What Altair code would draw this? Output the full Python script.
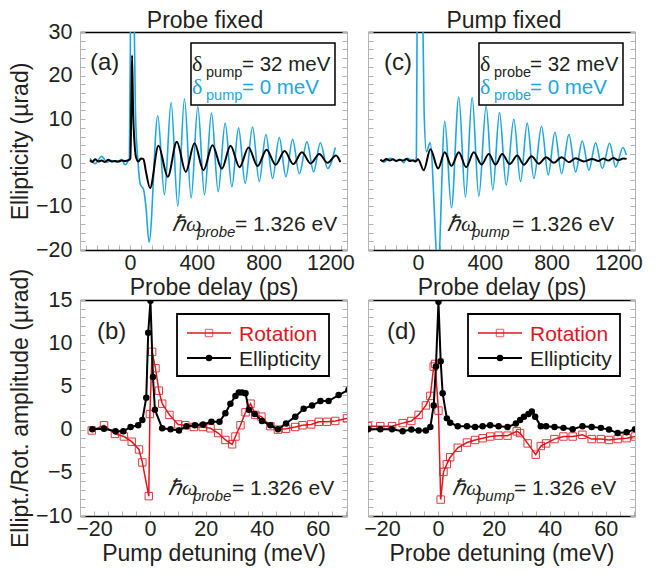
import altair as alt
import pandas as pd

# ---------------- data ----------------
# (a) Probe fixed: ellipticity vs probe delay
a_blue_t = [-240, -210, -170, -140, -110, -80, -50, -30, -10, -4, 4, 12, 22, 32, 48, 62, 80, 95, 114,
            166, 206, 246, 286, 326, 366, 406, 446, 488, 528, 570, 610, 650, 690, 734, 774, 814, 854,
            894, 934, 974, 1014, 1060, 1100, 1140, 1184, 1230]
a_blue_v = [1.0, -0.2, 1.5, 0.15, 0.5, 0.15, 0.75, -0.45, 0.5, 1.0, 40, 60, 42, 12, 0.0, -5.0, -6.0, -10.0, -18.2,
            10.8, -7.3, 13.8, -10.0, 14.7, -8.1, 12.9, -7.3, 11.4, -6.6, 9.1, -5.5, 8.0, -4.7, 8.2, -4.3, 6.5, -3.6,
            5.8, -3.2, 5.4, -2.5, 4.8, -2.1, 4.6, -1.3, 3.5]
a_black_t = [-240, -225, -210, -190, -170, -150, -130, -110, -90, -70, -50, -30, -10, 2, 8, 12, 18, 26, 35, 50,
             65, 80, 95, 120, 170, 226, 280, 334, 386, 440, 494, 550, 602, 656, 710, 764, 818, 872, 926, 978,
             1030, 1082, 1134, 1184, 1234, 1260]
a_black_v = [0.6, 0.2, 0.8, 0.3, 0.5, 0.2, 0.7, 0.3, 0.4, 0.3, 0.5, 0.4, 0.6, 1.0, 15, 24.6, 12, 5, 1.4, 0.3,
             1.0, 0.9, -2.0, -5.8, 3.9, -3.2, 4.8, -2.1, 4.5, -1.7, 4.0, -1.35, 3.9, -1.0, 3.5, -0.75, 3.0, -0.45,
             2.7, -0.3, 2.4, -0.15, 2.0, 0.0, 1.65, 0.15]

# (c) Pump fixed: ellipticity vs probe delay
c_blue_t = [-226, -206, -166, -136, -106, -86, -66, -36, -16, -10, -4, 10, 25, 36, 50, 72, 120,
            160, 200, 244, 284, 324, 364, 408, 448, 488, 528, 574, 614, 654, 694, 740, 780, 820, 860,
            904, 944, 984, 1024, 1064, 1104, 1148, 1184, 1228, 1248]
c_blue_v = [0.75, 0.15, 1.05, 0.5, 0.75, 0.0, 1.05, 0.5, 0.3, 1.5, 45, 70, 45, 12, 2.5, 4.6, -24,
            9.5, -10.3, 15.1, -7.9, 15.0, -7.7, 13.0, -6.2, 11.5, -5.1, 10.0, -4.3, 9.1, -3.6, 8.4, -2.8, 7.0, -2.5,
            6.5, -2.1, 5.0, -1.7, 4.6, -1.3, 4.5, -1.0, 3.5, 1.8]
c_black_t = [-226, -210, -190, -170, -150, -130, -110, -90, -70, -50, -30, -15, 0, 34, 74, 120, 160, 200,
             244, 288, 334, 380, 424, 464, 504, 550, 594, 634, 680, 724, 768, 814, 860, 904, 944, 994, 1044,
             1080, 1110, 1140, 1170, 1200, 1230, 1250]
c_black_v = [0.7, 0.4, 0.9, 0.5, 0.8, 0.4, 0.7, 0.5, 0.9, 0.4, 0.6, 0.3, 0.8, -1.7, 3.1, -1.3, 2.4, -0.7,
             2.4, -1.0, 2.4, -0.4, 2.0, -0.4, 2.0, -0.3, 1.65, -0.45, 1.5, -0.2, 1.3, 0.0, 1.3, 0.15, 1.05, 0.3, 0.9,
             0.4, 1.0, 0.5, 1.1, 0.6, 1.0, 0.9]

# (b) amplitude vs pump detuning
b_rot_x = [-20.8, -16.4, -12.5, -9.3, -6.5, -3.9, -2.7, -0.4, 0.0, 0.8, 2.0, 3.2, 4.4, 7.0, 10.1, 12.7, 15.7,
           18.9, 21.7, 24.4, 27.0, 29.4, 30.6, 32.4, 34.2, 36.0, 37.7, 39.9, 43.1, 45.8, 48.7, 52.0, 54.6,
           57.7, 60.4, 63.3, 66.3, 70.5]
b_rot_v = [-0.1, 0.5, -0.5, -0.8, -1.4, -2.3, -3.8, -7.7, 1.8, 9.0, 7.1, 4.5, 3.0, 1.7, 0.6, 0.5, 0.3,
           0.3, 0.15, -0.4, -1.2, -1.7, -0.8, 0.5, 2.0, 3.0, 1.7, 1.5, 0.4, 0.0, 0.1, 0.3, 0.5,
           0.6, 0.9, 0.9, 1.0, 1.3]
b_ell_x = [-20.6, -16.4, -12.3, -9.5, -6.9, -4.2, -2.7, -1.3, -0.6, 0.2, 1.1, 1.8, 4.4, 7.4, 10.4, 13.1, 16.1,
           19.0, 22.0, 24.9, 27.0, 28.8, 30.6, 31.8, 33.0, 34.2, 35.4, 37.5, 40.1, 43.1, 45.8, 48.7, 52.0,
           55.0, 58.0, 61.0, 63.9, 67.5, 71.0]
b_ell_v = [0.04, 0.1, -0.2, -0.2, 0.3, 0.5, 1.1, 3.7, 11.2, 14.9, 6.1, 2.3, 0.15, 0.04, -0.1, 0.4, 0.5,
           0.6, 0.9, 0.9, 1.9, 3.0, 3.9, 4.3, 4.3, 4.2, 2.3, 1.8, 1.0, 0.5, 0.04, 0.7, 1.5,
           2.4, 2.8, 3.3, 3.3, 4.0, 4.6]

# (d) amplitude vs probe detuning
d_rot_x = [-25.0, -20.6, -16.4, -12.6, -9.5, -6.9, -4.3, -2.7, -1.5, -1.0, 0.2, 1.0, 2.0, 3.2, 4.4, 7.1, 10.4,
           13.3, 16.0, 18.7, 21.7, 24.9, 28.2, 29.4, 32.1, 35.0, 36.8, 38.7, 41.7, 44.9, 48.2, 51.7, 55.0,
           58.3, 61.2, 64.3, 67.5, 70.5]
d_rot_v = [0.4, 0.4, 0.4, 0.75, 1.0, 1.7, 2.8, 3.9, 7.3, 7.6, 2.2, -8.1, -4.9, -4.0, -3.2, -2.1, -1.5,
           -1.2, -1.0, -0.8, -0.7, -0.7, -0.2, -0.4, -1.6, -2.9, -1.9, -1.6, -1.1, -0.8, -0.8, -0.6, -1.1,
           -1.1, -1.2, -1.1, -1.0, -0.8]
d_ell_x = [-25.0, -20.6, -16.4, -12.6, -9.5, -6.9, -4.3, -2.7, -1.5, -0.7, 0.2, 1.0, 1.7, 3.2, 4.4, 7.1, 10.4,
           13.3, 16.0, 18.7, 21.7, 24.9, 27.9, 29.4, 30.8, 32.4, 33.6, 34.8, 36.8, 38.7, 41.7, 44.9, 48.2,
           51.7, 55.0, 58.3, 61.2, 64.3, 67.5, 70.5]
d_ell_v = [0.04, 0.04, 0.04, -0.2, 0.0, -0.1, -0.1, 0.3, 2.8, 7.3, 14.8, 7.9, 4.2, 1.3, 0.8, 0.4, 0.4,
           0.3, 0.4, 0.5, 0.4, 0.3, 0.7, 1.1, 1.5, 1.8, 2.1, 1.5, 0.4, 0.4, 0.3, 0.2, 0.04,
           0.4, 0.3, 0.2, 0.0, -0.4, -0.3, 0.04]

trace_xlabels = [0, 400, 800, 1200]
trace_ylabels = [-20, -10, 0, 10, 20, 30]
det_xlabels = [-20, 0, 20, 40, 60]
det_ylabels = [-10, -5, 0, 5, 10, 15]

# ---------------- style ----------------
W = 267
H_TOP = 218
H_BOT = 216
FONT = "Liberation Sans"
SERIF = "Liberation Serif"
GREY = "#b4b4b4"
BLUE = "#1DA6E0"
RED = "#E3161D"
TXT = "#231f20"

trace_minor_x = [k * 400 / 6 for k in range(-4, 20)]
trace_minor_y = list(range(-20, 31, 2))
det_minor_x = list(range(-25, 71, 5))
det_minor_y = list(range(-10, 16, 1))

one = pd.DataFrame({"k": [0]})


def txt(s, x, y, size=20, color=TXT, font=FONT, style="normal", align="left"):
    return alt.Chart(one).mark_text(
        text=s, fontSize=size, font=font, fontStyle=style, color=color,
        align=align, baseline="alphabetic"
    ).encode(x=alt.value(x), y=alt.value(y))


def frame_layers(df, xf, yf, xs, ys, H, minor_x, minor_y):
    t1 = alt.Chart(df).mark_point(opacity=0).encode(
        x=alt.X(f"{xf}:Q", scale=xs, axis=alt.Axis(orient="top", offset=-H, values=minor_x, labels=False,
                                                   domain=False, ticks=True, tickColor=GREY, tickSize=5,
                                                   tickWidth=1, title=None, grid=False,
                                                   minExtent=0, maxExtent=0)),
        y=alt.Y(f"{yf}:Q", scale=ys, axis=alt.Axis(orient="right", offset=-W, values=minor_y, labels=False,
                                                   domain=False, ticks=True, tickColor=GREY, tickSize=5,
                                                   tickWidth=1, title=None, grid=False,
                                                   minExtent=0, maxExtent=0)),
    )
    t2 = alt.Chart(df).mark_point(opacity=0).encode(
        x=alt.X(f"{xf}:Q", scale=xs, axis=alt.Axis(orient="bottom", offset=-H, labels=False, ticks=False,
                                                   domainColor="black", domainWidth=1.5, title=None,
                                                   grid=False, minExtent=0, maxExtent=0)),
        y=alt.Y(f"{yf}:Q", scale=ys, axis=alt.Axis(orient="left", offset=-W, values=minor_y, labels=False,
                                                   domainColor=GREY, ticks=True, tickColor=GREY, tickSize=5,
                                                   tickWidth=1, title=None, grid=False,
                                                   minExtent=0, maxExtent=0)),
    )
    return [t1, t2]


def main_axes(xvals, yvals, xtitle, ytitle, show_y):
    xa = alt.Axis(orient="bottom", values=xvals, format="d", ticks=False, domainColor="black", domainWidth=1.5,
                  labelFontSize=21.5, labelFont=FONT, labelColor=TXT, labelPadding=2, labelFlush=False,
                  title=xtitle, titleFontSize=23, titleFont=FONT, titleFontWeight="normal",
                  titleColor=TXT, titlePadding=3, grid=False)
    if show_y:
        ya = alt.Axis(orient="left", values=yvals, format="d", ticks=False, domainColor=GREY, domainWidth=1,
                      labelFontSize=21.5, labelFont=FONT, labelColor=TXT, labelPadding=8, labelFlush=False,
                      title=ytitle, titleFontSize=23, titleFont=FONT, titleFontWeight="normal",
                      titleColor=TXT, titlePadding=3, grid=False)
    else:
        ya = alt.Axis(orient="left", values=yvals, ticks=False, domainColor=GREY, domainWidth=1,
                      labels=False, title=None, grid=False, minExtent=0)
    return xa, ya


def trace_panel(bt, bv, kt, kv, letter, dsub, hsub, title, tx, show_y, pos):
    H = H_TOP
    xs = alt.Scale(domain=[-300, 1300], nice=False, zero=False)
    ys = alt.Scale(domain=[-20, 30], nice=False, zero=False)
    dfb = pd.DataFrame({"t": bt, "v": bv})
    dfk = pd.DataFrame({"t": kt, "v": kv})
    xa, ya = main_axes(trace_xlabels, trace_ylabels, "Probe delay (ps)", "Ellipticity (µrad)", show_y)
    blue = alt.Chart(dfb).mark_line(color=BLUE, strokeWidth=1.6, interpolate="monotone", clip=True).encode(
        x=alt.X("t:Q", scale=xs, axis=xa), y=alt.Y("v:Q", scale=ys, axis=ya))
    black = alt.Chart(dfk).mark_line(color="black", strokeWidth=2, interpolate="monotone", clip=True).encode(
        x=alt.X("t:Q", scale=xs, axis=None), y=alt.Y("v:Q", scale=ys, axis=None))
    lx, hx, sx, ex = pos
    deco = [
        alt.Chart(one).mark_rect(fill="white", stroke="black", strokeWidth=1.5).encode(
            x=alt.value(111), x2=alt.value(255), y=alt.value(11), y2=alt.value(73)),
        txt("δ", 112, 39, size=22, font=SERIF),
        txt(dsub, 126, 45, size=14.5),
        txt("= 32 meV", sx, 39, size=20.5),
        txt("δ", 112, 62, size=22, font=SERIF, color=BLUE),
        txt(dsub, 126, 68, size=14.5, color=BLUE),
        txt("= 0 meV", sx, 62, size=20.5, color=BLUE),
        txt(letter, lx, 38, size=24),
        txt("ℏω", hx, H - 19, size=22, font=SERIF, style="italic"),
        txt(hsub, hx + 25, H - 13, size=15, style="italic"),
        txt("= 1.326 eV", ex, H - 19, size=21),
        txt(title, tx, -4, size=23, align="center"),
    ]
    layers = frame_layers(dfk, "t", "v", xs, ys, H, trace_minor_x, trace_minor_y) + [blue, black] + deco
    return alt.layer(*layers).resolve_axis(x="independent", y="independent").properties(width=W, height=H)


def det_panel(rx, rv, ex_, ev, letter, xtitle, sub, show_y, pos):
    H = H_BOT
    xs = alt.Scale(domain=[-25, 70.5], nice=False, zero=False)
    ys = alt.Scale(domain=[-10, 15], nice=False, zero=False)
    dfr = pd.DataFrame({"x": rx, "v": rv})
    dfe = pd.DataFrame({"x": ex_, "v": ev})
    xa, ya = main_axes(det_xlabels, det_ylabels, xtitle, "Ellipt./Rot. amplitude (µrad)", show_y)
    rline = alt.Chart(dfr).mark_line(color=RED, strokeWidth=1.5, clip=True).encode(
        x=alt.X("x:Q", scale=xs, axis=xa), y=alt.Y("v:Q", scale=ys, axis=ya))
    rpts = alt.Chart(dfr).mark_point(shape="square", filled=False, color=RED, size=55, strokeWidth=1.0,
                                     opacity=0.85, clip=True).encode(
        x=alt.X("x:Q", scale=xs, axis=None), y=alt.Y("v:Q", scale=ys, axis=None))
    eline = alt.Chart(dfe).mark_line(color="black", strokeWidth=2, clip=True).encode(
        x=alt.X("x:Q", scale=xs, axis=None), y=alt.Y("v:Q", scale=ys, axis=None))
    epts = alt.Chart(dfe).mark_circle(color="black", size=42, opacity=1, clip=True).encode(
        x=alt.X("x:Q", scale=xs, axis=None), y=alt.Y("v:Q", scale=ys, axis=None))
    lx, bx, hx, eqx = pos
    deco = [
        alt.Chart(one).mark_rect(fill="white", stroke="black", strokeWidth=1.8).encode(
            x=alt.value(bx), x2=alt.value(bx + 152), y=alt.value(14), y2=alt.value(76)),
        alt.Chart(one).mark_rule(color=RED, strokeWidth=1.5).encode(
            x=alt.value(bx + 10), x2=alt.value(bx + 54), y=alt.value(33)),
        alt.Chart(one).mark_point(shape="square", filled=False, color=RED, size=55, strokeWidth=1.0).encode(
            x=alt.value(bx + 32), y=alt.value(33)),
        txt("Rotation", bx + 62, 41, size=21, color=RED),
        alt.Chart(one).mark_rule(color="black", strokeWidth=2).encode(
            x=alt.value(bx + 10), x2=alt.value(bx + 54), y=alt.value(58)),
        alt.Chart(one).mark_circle(color="black", size=42, opacity=1).encode(
            x=alt.value(bx + 32), y=alt.value(58)),
        txt("Ellipticity", bx + 62, 66, size=21),
        txt(letter, lx, 39, size=24),
        txt("ℏω", hx, H - 21, size=22, font=SERIF, style="italic"),
        txt(sub, hx + 25, H - 15, size=15, style="italic"),
        txt("= 1.326 eV", eqx, H - 21, size=21),
    ]
    layers = frame_layers(dfe, "x", "v", xs, ys, H, det_minor_x, det_minor_y) + [rline, rpts, eline, epts] + deco
    return alt.layer(*layers).resolve_axis(x="independent", y="independent").properties(width=W, height=H)


pa = trace_panel(a_blue_t, a_blue_v, a_black_t, a_black_v, "(a)", "pump", "probe", "Probe fixed", 125, True,
                 (10, 92, 162, 155))
pc = trace_panel(c_blue_t, c_blue_v, c_black_t, c_black_v, "(c)", "probe", "pump", "Pump fixed", 136, False,
                 (16, 79, 162, 144))
pb = det_panel(b_rot_x, b_rot_v, b_ell_x, b_ell_v, "(b)", "Pump detuning (meV)", "probe", True,
               (17, 97, 88, 152))
pd_ = det_panel(d_rot_x, d_rot_v, d_ell_x, d_ell_v, "(d)", "Probe detuning (meV)", "pump", False,
                (19, 100, 84, 146))

chart = alt.concat(pa, pc, pb, pd_, columns=2, spacing={"row": 50, "column": 21}, bounds="flush").properties(
    padding={"left": 1, "top": 2, "right": 2, "bottom": 0}
).configure_view(stroke=None)

chart.save("out.html", embed_options={"renderer": "svg", "actions": False})
